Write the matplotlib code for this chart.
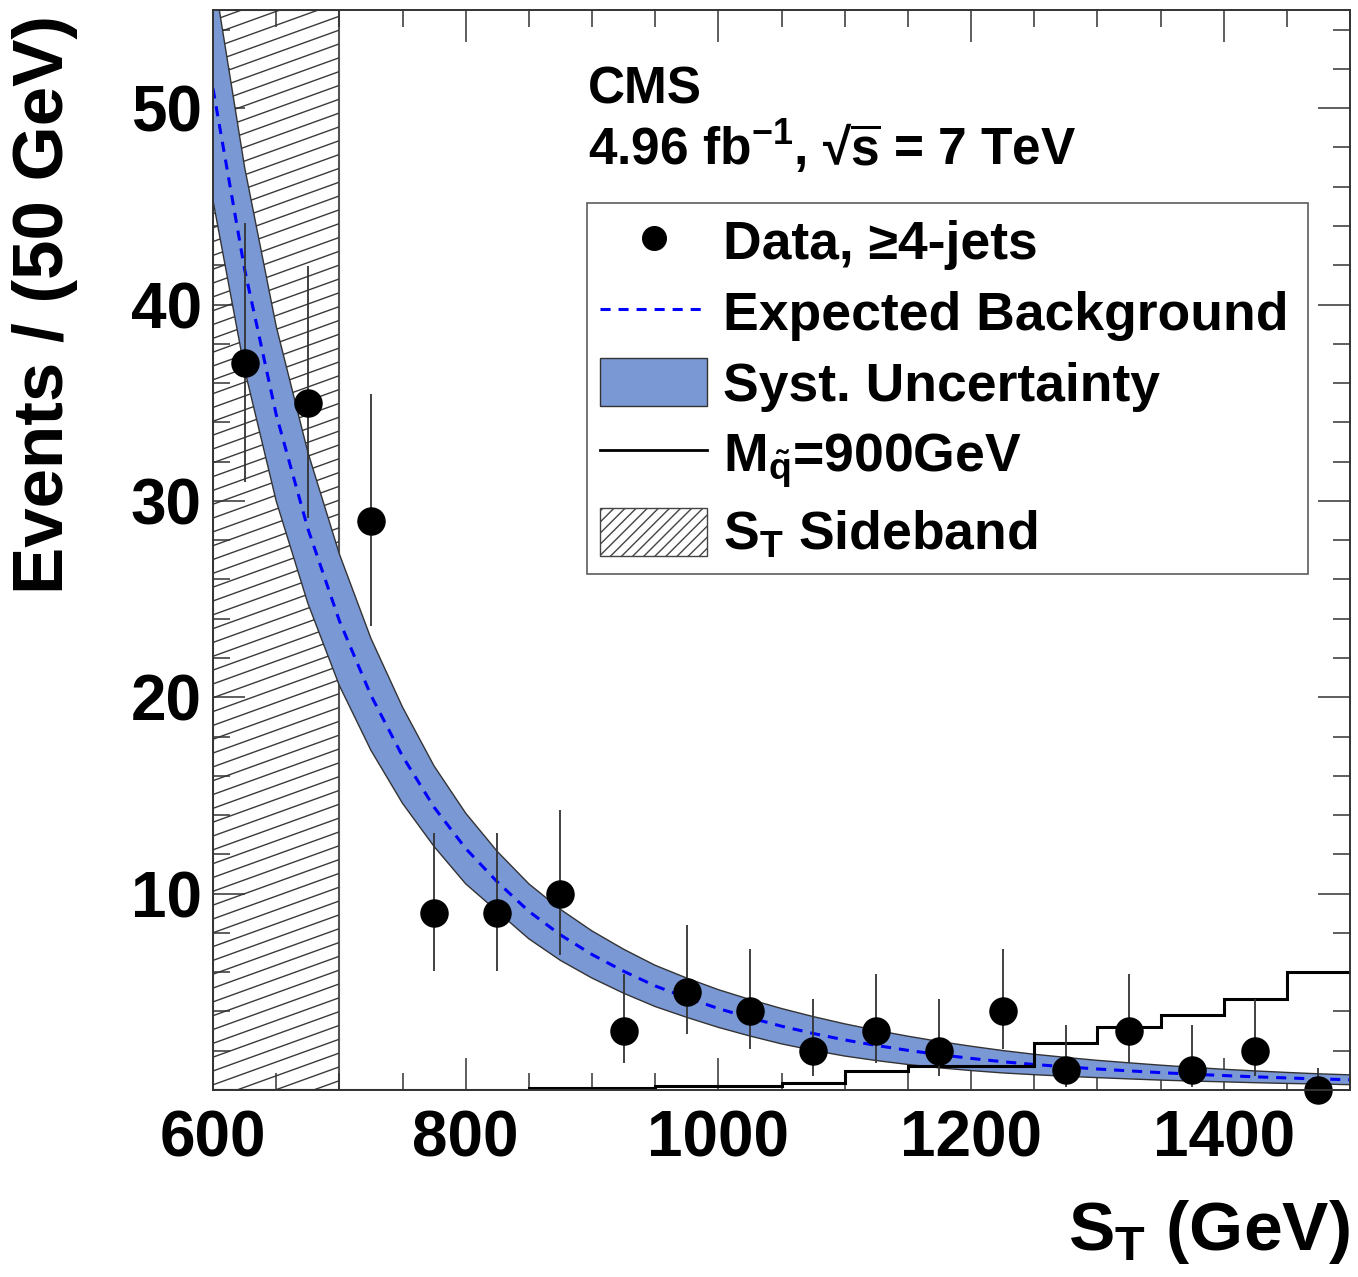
import numpy as np
import matplotlib
matplotlib.use("Agg")
import matplotlib.pyplot as plt
from matplotlib.patches import Rectangle, Patch
from matplotlib.lines import Line2D
from matplotlib.ticker import MultipleLocator

plt.rcParams['font.family'] = ['Liberation Sans', 'DejaVu Sans']
plt.rcParams['font.weight'] = 'bold'
plt.rcParams['mathtext.fontset'] = 'custom'
plt.rcParams['mathtext.rm'] = 'Liberation Sans:bold'
plt.rcParams['mathtext.it'] = 'Liberation Sans:bold'
plt.rcParams['mathtext.bf'] = 'Liberation Sans:bold'
plt.rcParams['hatch.linewidth'] = 1.0

# data, >=4 jets, 50 GeV bins
st_centers = [625, 675, 725, 775, 825, 875, 925, 975, 1025, 1075,
              1125, 1175, 1225, 1275, 1325, 1375, 1425, 1475]
n_events = [37, 35, 29, 9, 9, 10, 3, 5, 4, 2, 3, 2, 4, 1, 3, 1, 2, 0]
err_lo = [30.95, 29.12, 23.65, 6.06, 6.06, 6.90, 1.37, 2.84, 2.09, 0.71,
          1.37, 0.71, 2.09, 0.17, 1.37, 0.17, 0.71, 0.0]
err_hi = [44.14, 41.97, 35.45, 13.10, 13.10, 14.26, 5.92, 8.38, 7.16, 4.64,
          5.92, 4.64, 7.16, 3.30, 5.92, 3.30, 4.64, 1.14]

# expected background and its systematic band
bkg_st = [600, 625, 650, 675, 700, 725, 750, 775, 800, 825, 850, 875, 900,
          925, 950, 975, 1000, 1025, 1050, 1075, 1100, 1125, 1150, 1175, 1200,
          1225, 1250, 1275, 1300, 1325, 1350, 1375, 1400, 1425, 1450, 1475, 1500]
bkg_mid = [51.0, 41.8, 34.4, 28.6, 23.9, 20.1, 17.0, 14.4, 12.3, 10.6, 9.1, 7.9, 6.9,
           6.05, 5.3, 4.7, 4.15, 3.68, 3.25, 2.88, 2.55, 2.27, 2.02, 1.80, 1.61,
           1.44, 1.30, 1.18, 1.07, 0.975, 0.885, 0.806, 0.736, 0.671, 0.615, 0.564, 0.522]
bkg_lo = [45.3, 36.7, 30.0, 24.8, 20.6, 17.3, 14.6, 12.4, 10.5, 9.1, 7.7, 6.6, 5.7,
          4.93, 4.25, 3.7, 3.19, 2.75, 2.35, 2.02, 1.73, 1.50, 1.30, 1.13, 0.99,
          0.87, 0.78, 0.70, 0.63, 0.565, 0.505, 0.456, 0.416, 0.371, 0.335, 0.304, 0.272]
bkg_hi = [57.0, 47.0, 38.9, 32.5, 27.3, 23.0, 19.5, 16.5, 14.1, 12.15, 10.5, 9.2, 8.1,
          7.17, 6.35, 5.7, 5.11, 4.61, 4.15, 3.74, 3.37, 3.04, 2.74, 2.47, 2.23,
          2.01, 1.82, 1.66, 1.51, 1.385, 1.265, 1.156, 1.056, 0.971, 0.895, 0.824, 0.772]

# signal, M_squark = 900 GeV
sig_edges = [600, 650, 700, 750, 800, 850, 900, 950, 1000, 1050,
             1100, 1150, 1200, 1250, 1300, 1350, 1400, 1450, 1500]
sig_counts = [0, 0, 0, 0, 0, 0.08, 0.08, 0.22, 0.22, 0.37,
              0.99, 1.22, 1.22, 2.38, 3.2, 3.83, 4.63, 5.99]

sideband = (600, 700)

W, H = 1358, 1277
fig = plt.figure(figsize=(W / 100, H / 100), dpi=100)
ax = fig.add_axes([213 / W, 1 - 1090 / H, (1350 - 213) / W, (1090 - 10) / H])
ax.set_xlim(600, 1500)
ax.set_ylim(0, 55)

# sideband region with shallow hatching
sb = Rectangle((sideband[0], 0), sideband[1] - sideband[0], 55,
               facecolor='white', edgecolor='#555555', lw=1.5, zorder=1)
ax.add_patch(sb)
for b in np.arange(-0.2, 1.05, 0.0128):
    hl, = ax.plot([0, 0.12], [b, b + 0.12 * 0.38], transform=ax.transAxes,
                  color='#3a3a3a', lw=1.0, zorder=1.5)
    hl.set_clip_path(sb)

ax.fill_between(bkg_st, bkg_lo, bkg_hi, facecolor='#7A98D4', edgecolor='none', zorder=2)
ax.plot(bkg_st, bkg_lo, color='#333333', lw=1.0, zorder=2.1)
ax.plot(bkg_st, bkg_hi, color='#333333', lw=1.0, zorder=2.1)
ax.plot(bkg_st, bkg_mid, color='#0000FF', lw=2.2, dashes=(3.3, 2.6), zorder=3)

ax.stairs(sig_counts, sig_edges, color='black', lw=2.2, baseline=None, zorder=3.5)

ax.vlines(st_centers, err_lo, err_hi, color='#333333', lw=1.3, zorder=4)
ax.plot(st_centers, n_events, 'o', color='black', markersize=19.5, zorder=5, clip_on=False)

# ROOT-like axes
ax.set_xticks([600, 800, 1000, 1200, 1400])
ax.xaxis.set_minor_locator(MultipleLocator(50))
ax.set_yticks([10, 20, 30, 40, 50])
ax.yaxis.set_minor_locator(MultipleLocator(2))
ax.tick_params(which='both', direction='in', top=True, right=True, color='#333333', width=1.1)
ax.tick_params(which='major', length=23)
ax.tick_params(which='minor', length=12)
ax.tick_params(axis='x', which='major', labelsize=46, pad=14)
ax.tick_params(axis='y', which='major', labelsize=46, pad=8)
for s in ax.spines.values():
    s.set_color('#333333')
    s.set_linewidth(1.4)
    s.set_zorder(6)

fig.text(45 / W, 1 - 15 / H, 'Events / (50 GeV)', rotation=90, fontsize=51,
         ha='center', va='top')
fig.text(1350 / W, 1 - 1250 / H, 'S$_{T}$ (GeV)', fontsize=50, ha='right', va='baseline')

fig.text(588 / W, 1 - 103 / H, 'CMS', fontsize=37, ha='left', va='baseline')
fig.text(588 / W, 1 - 165 / H, r'4.96 fb$^{-1}$, √$\overline{\mathrm{s}}$ = 7 TeV', fontsize=37,
         ha='left', va='baseline')

handles = [
    Line2D([], [], marker='o', ls='none', color='black', markersize=17),
    Line2D([], [], color='#0000FF', lw=2.2, dashes=(3.3, 2.6)),
    Patch(facecolor='#7A98D4', edgecolor='#333333', lw=1.0),
    Line2D([], [], color='black', lw=2.0),
    Patch(facecolor='white', edgecolor='#444444', hatch='///', lw=1.0),
]
labels = ['Data, ≥4-jets', 'Expected Background', 'Syst. Uncertainty',
          r'M$_{\tilde{q}}$=900GeV', 'S$_{T}$ Sideband']
leg = ax.legend(handles, labels, loc='upper left',
                bbox_to_anchor=(0.329, 0.470, 0.634, 0.351), mode='expand',
                borderaxespad=0, fontsize=38.5, frameon=True, fancybox=False,
                handlelength=2.0, handleheight=1.0, handletextpad=0.3,
                labelspacing=0.33, borderpad=0.25)
leg.get_frame().set_edgecolor('#333333')
leg.get_frame().set_linewidth(1.2)
leg.set_zorder(7)

fig.savefig('out.png', dpi=100)
